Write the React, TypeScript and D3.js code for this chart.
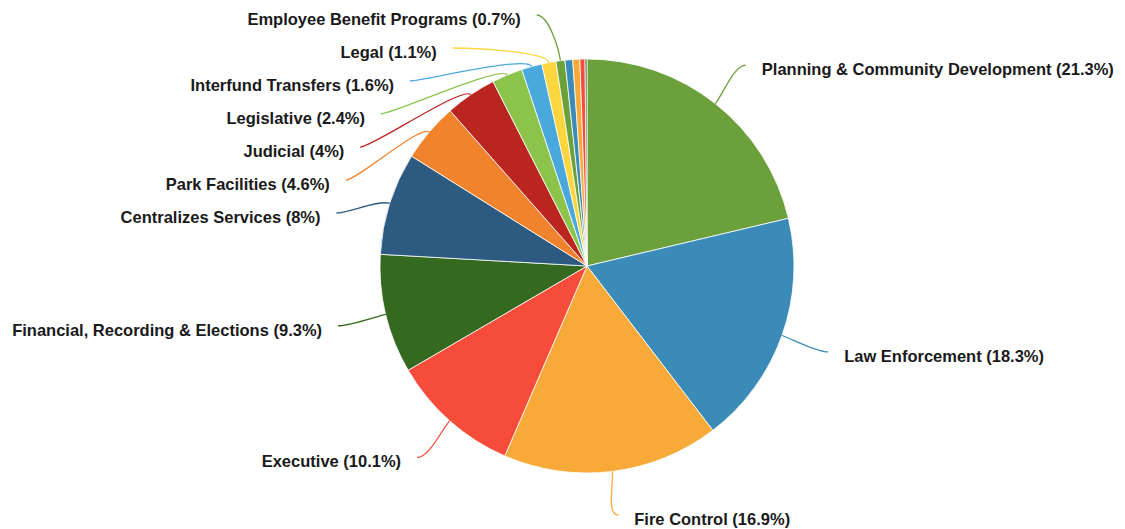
import React from "react";
import * as d3 from "d3";

const categories = [
  "Planning & Community Development",
  "Law Enforcement",
  "Fire Control",
  "Executive",
  "Financial, Recording & Elections",
  "Centralizes Services",
  "Park Facilities",
  "Judicial",
  "Legislative",
  "Interfund Transfers",
  "Legal",
  "Employee Benefit Programs",
  "Other A",
  "Other B",
  "Other C",
  "Other D",
];
const values = [21.3, 18.3, 16.9, 10.1, 9.3, 8, 4.6, 4, 2.4, 1.6, 1.1, 0.7, 0.6, 0.55, 0.4, 0.15];
const palette = [
  "#6ba03b",
  "#3b8bb8",
  "#f7aa38",
  "#f64c39",
  "#35691f",
  "#2c5a80",
  "#f0832c",
  "#bb2520",
  "#8cc34b",
  "#4aa9dc",
  "#fcd63e",
];
const labelMin = 0.7;

const W = 1125;
const H = 529;
const cx = 587;
const cy = 266;
const r = 207;
const R = 256;
const spacing = 33;
const minY = 15;
const maxY = 515;

export default function App() {
  const pie = d3
    .pie<number>()
    .sort(null)
    .value((d) => d)
    .startAngle(0)
    .endAngle(2 * Math.PI);
  const arcs = pie(values);
  const arcGen = d3.arc<d3.PieArcDatum<number>>().innerRadius(0).outerRadius(r);
  const color = (i: number) => palette[i % palette.length];

  const pt = (a: number, rad: number) => [cx + rad * Math.sin(a), cy - rad * Math.cos(a)];

  type L = { index: number; mid: number; side: number; y: number; x: number };
  const labels: L[] = arcs
    .filter((a) => values[a.index] >= labelMin)
    .map((a) => {
      const mid = (a.startAngle + a.endAngle) / 2;
      return { index: a.index, mid, side: Math.sin(mid) >= 0 ? 1 : -1, y: cy - R * Math.cos(mid), x: 0 };
    });
  [1, -1].forEach((side) => {
    const items = labels.filter((l) => l.side === side).sort((a, b) => a.y - b.y);
    let prev = -Infinity;
    items.forEach((it) => {
      it.y = Math.max(it.y, prev + spacing, minY);
      prev = it.y;
      if (it.y > maxY) {
        it.y = maxY;
        it.x = cx + R * Math.sin(it.mid);
      } else {
        const dy = it.y - cy;
        it.x = cx + side * Math.sqrt(Math.max(0, R * R - dy * dy));
      }
    });
  });

  return (
    <svg width={W} height={H} style={{ position: "absolute", left: 0, top: 0 }}>
      <g transform={`translate(${cx},${cy})`}>
        {arcs.map((a) => (
          <path key={a.index} d={arcGen(a) || ""} fill={color(a.index)} stroke="#fff" strokeWidth={0.8} />
        ))}
      </g>
      {labels.map((l) => {
        const A = pt(l.mid, r);
        const B = pt(l.mid, r + 12);
        const C = [l.x, l.y];
        const c1 = [C[0] - l.side * 12, C[1]];
        const d = `M${C[0]},${C[1]} C${c1[0]},${c1[1]} ${B[0]},${B[1]} ${A[0]},${A[1]}`;
        return (
          <g key={l.index}>
            <path d={d} fill="none" stroke={color(l.index)} strokeWidth={1.3} />
            <text
              x={C[0] + l.side * 16}
              y={C[1] + 4}
              textAnchor={l.side > 0 ? "start" : "end"}
              dominantBaseline="central"
              fontFamily="'Liberation Sans', Arial, Helvetica, sans-serif"
              fontWeight="bold"
              fontSize={16.5}
              fill="#1a1a1a"
            >
              {`${categories[l.index]} (${values[l.index]}%)`}
            </text>
          </g>
        );
      })}
    </svg>
  );
}
